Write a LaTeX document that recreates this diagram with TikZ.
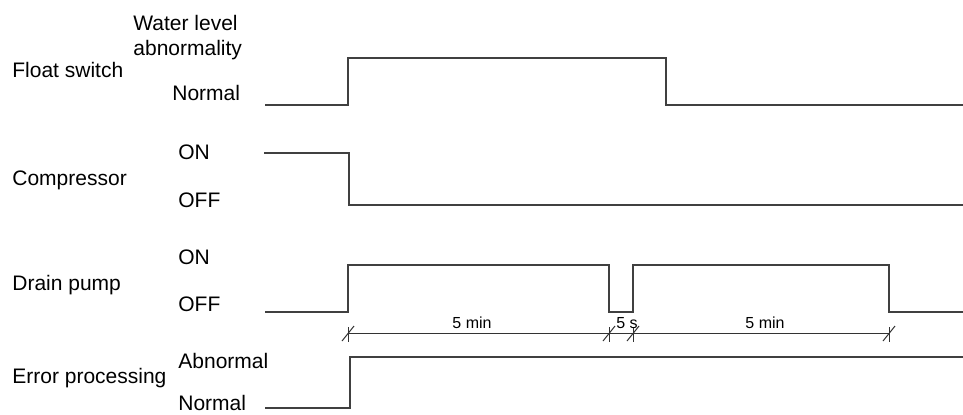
\documentclass[tikz,border=0pt]{standalone}
\usepackage{fontspec}
\setmainfont{Liberation Sans}
\usetikzlibrary{positioning}

\begin{document}
\begin{tikzpicture}[
    x=0.5pt, y=-0.5pt,
    lbl/.style={anchor=base west, inner sep=0pt, font=\fontsize{10.5}{12.5}\selectfont},
    dimlbl/.style={anchor=base, inner sep=0pt, font=\fontsize{8}{9}\selectfont},
    wave/.style={line width=0.8pt, draw=black!75},
    dimline/.style={line width=0.5pt, draw=black!80}
]
\useasboundingbox (0,0) rectangle (963,414);

% signal names
\node[lbl] (fsw)  at (12,77)  {Float switch};
\node[lbl] (comp) at (12,185) {Compressor};
\node[lbl] (pump) at (12,290) {Drain pump};
\node[lbl] (err)  at (12,383) {Error processing};

% levels
\node[lbl, align=left] (fswhi) at (133,55) {Water level\\abnormality};
\node[lbl] (fswlo)   at (172,100) {Normal};
\node[lbl] (compon)  at (178,159) {ON};
\node[lbl] (compoff) at (178,207) {OFF};
\node[lbl] (pumpon)  at (178,264) {ON};
\node[lbl] (pumpoff) at (178,311) {OFF};
\node[lbl] (errhi)   at (178,368) {Abnormal};
\node[lbl] (errlo)   at (178,410) {Normal};

% waveforms
\draw[wave] (265,105) -- (348,105) -- (348,58) -- (666,58) -- (666,105) -- (963,105);
\draw[wave] (264,153) -- (349,153) -- (349,205) -- (963,205);
\draw[wave] (265,312) -- (348,312) -- (348,265) -- (609,265) -- (609,312)
    -- (633,312) -- (633,265) -- (889,265) -- (889,312) -- (963,312);
\draw[wave] (265,408) -- (350,408) -- (350,357) -- (963,357);

% timing
\coordinate (t0) at (348,333);
\coordinate (t1) at (609,333);
\coordinate (t2) at (633,333);
\coordinate (t3) at (889,333);
\draw[dimline] (t0) -- (t3);
\foreach \t in {t0,t1,t2,t3} {
  \draw[dimline] ([shift={(0,-6)}]\t) -- ([shift={(0,9)}]\t);
  \draw[dimline] ([shift={(-6,8)}]\t) -- ([shift={(6,-7)}]\t);
}
\node[dimlbl] (d1) at (472,328) {5 min};
\node[dimlbl] (d2) at (627,328) {5 s};
\node[dimlbl] (d3) at (765,328) {5 min};

\end{tikzpicture}
\end{document}
